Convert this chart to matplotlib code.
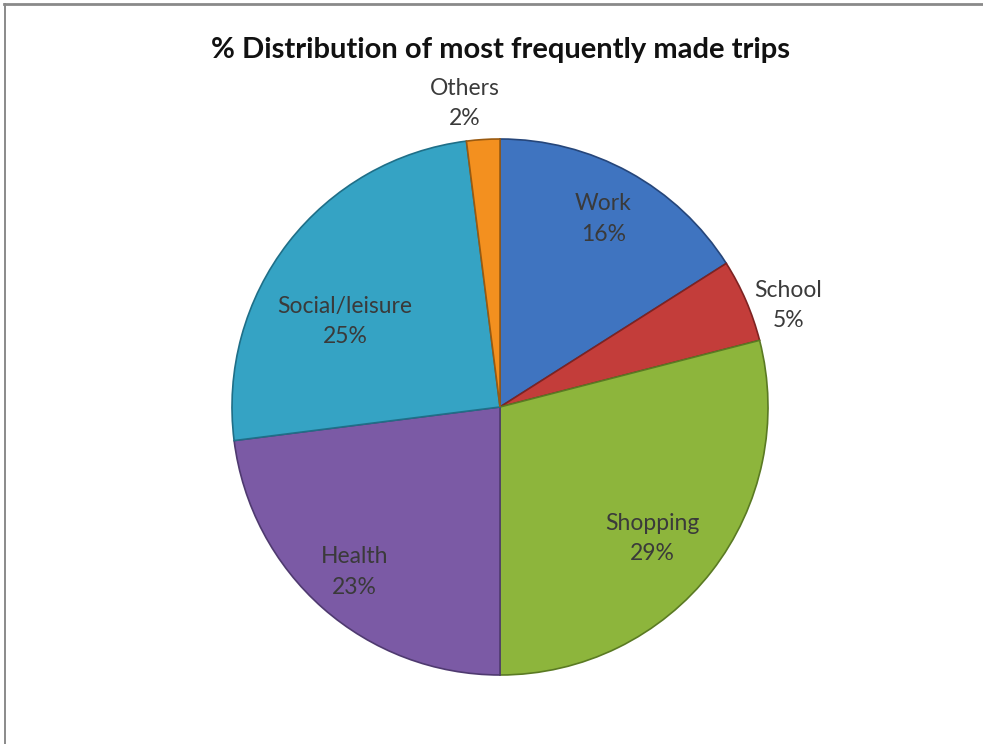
import matplotlib.pyplot as plt
from matplotlib.lines import Line2D
import numpy as np

categories = ['Work', 'School', 'Shopping', 'Health', 'Social/leisure', 'Others']
shares = [16, 5, 29, 23, 25, 2]
colors = ['#3F74C0', '#C33D3A', '#8DB53C', '#7B5AA5', '#35A3C4', '#F3901F']
edges = ['#26467A', '#7E2322', '#5A7A23', '#4F3A70', '#1F6F88', '#9A5A10']

# label placement: radial distance (fraction of radius) and angle nudge in degrees
label_dist = [0.80, 1.14, 0.75, 0.82, 0.66, 1.14]
label_nudge = [0, -4, -3, 0, 9, 3]

plt.rcParams['font.family'] = ['Lato', 'DejaVu Sans']

fig = plt.figure(figsize=(9.83, 7.44), dpi=100)
# frame: only top and left edges show
fig.lines.append(Line2D([0.004, 1.0], [0.995, 0.995], transform=fig.transFigure,
                        color='#8a8a8a', linewidth=2))
fig.lines.append(Line2D([0.005, 0.005], [0.0, 0.995], transform=fig.transFigure,
                        color='#8a8a8a', linewidth=1.4))

cx, cy = 500 / 983, 1 - 407 / 744
w, h = 536 / 983, 536 / 744
ax = fig.add_axes([cx - w / 2, cy - h / 2, w, h])

wedges, _ = ax.pie(shares, colors=colors, startangle=90, counterclock=False,
                   radius=1, wedgeprops=dict(linewidth=1.2))
for wdg, ec in zip(wedges, edges):
    wdg.set_edgecolor(ec)

for wdg, name, val, d, nudge in zip(wedges, categories, shares, label_dist, label_nudge):
    ang = np.deg2rad((wdg.theta1 + wdg.theta2) / 2 + nudge)
    ax.text(d * np.cos(ang), d * np.sin(ang), f'{name}\n{val}%', ha='center', va='center',
            fontsize=16.5, color='#3a3a3a', linespacing=1.55)

ax.set_xlim(-1, 1)
ax.set_ylim(-1, 1)
ax.set_aspect('equal')
ax.axis('off')

fig.text(500 / 983, 1 - 50 / 744, '% Distribution of most frequently made trips',
         ha='center', va='center', fontsize=21, fontweight='bold', color='#111111')

fig.savefig('out.png', dpi=100)
